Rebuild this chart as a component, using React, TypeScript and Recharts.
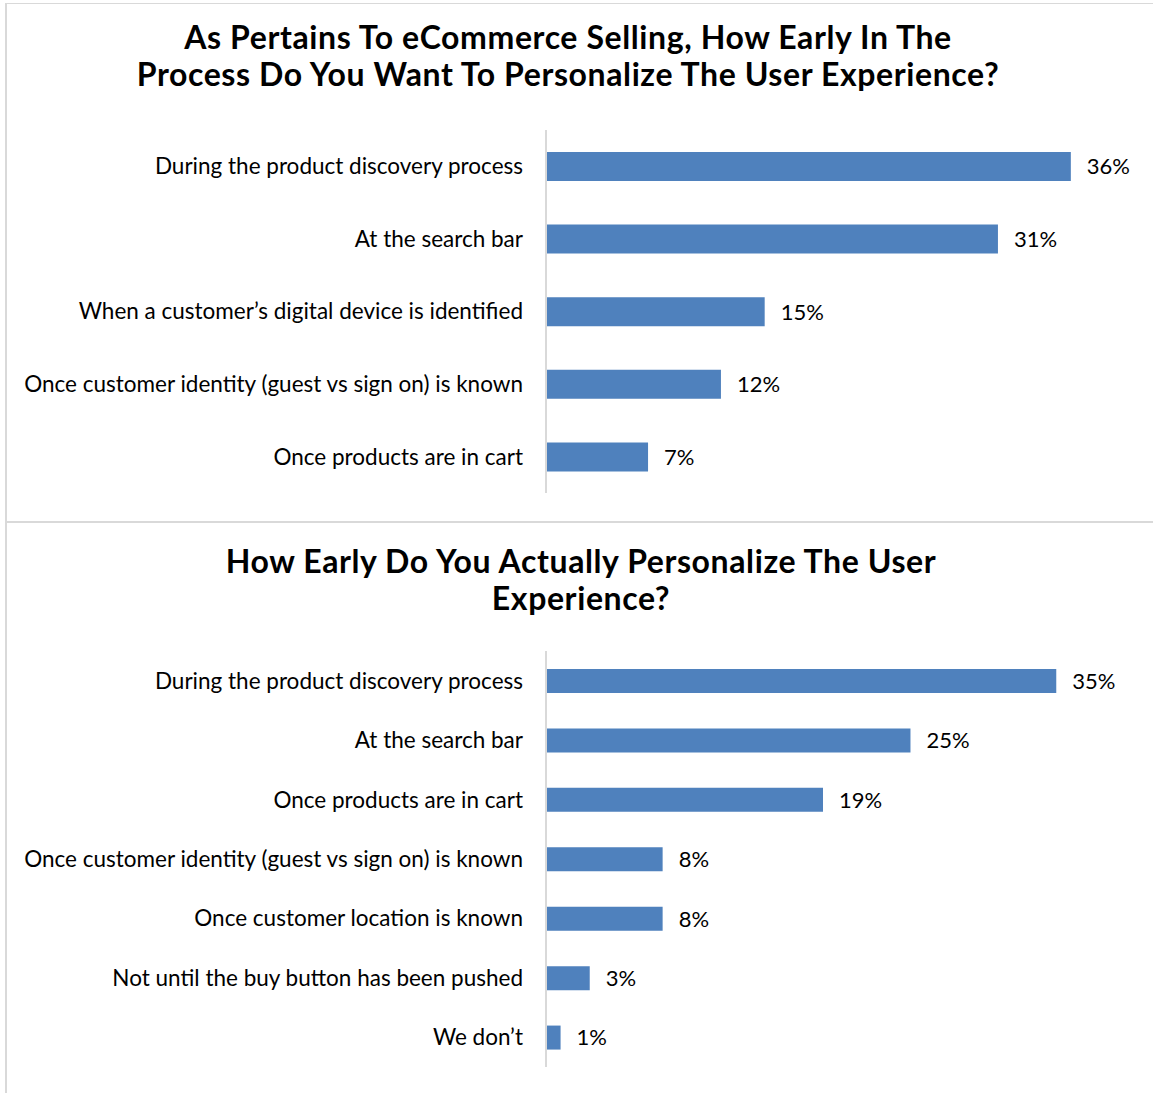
import { BarChart, Bar, XAxis, YAxis, LabelList } from "recharts";

const wantCategories = [
  "During the product discovery process",
  "At the search bar",
  "When a customer’s digital device is identified",
  "Once customer identity (guest vs sign on) is known",
  "Once products are in cart",
];
const wantValues = [36, 31, 15, 12, 7];

const actualCategories = [
  "During the product discovery process",
  "At the search bar",
  "Once products are in cart",
  "Once customer identity (guest vs sign on) is known",
  "Once customer location is known",
  "Not until the buy button has been pushed",
  "We don’t",
];
const actualValues = [35, 25, 19, 8, 8, 3, 1];

const FONT = "Lato, 'Open Sans', sans-serif";
const BLUE = "#4f81bd";
const GRID = "#d9d9d9";

function HBar({ cats, vals, height, barSize }: { cats: string[]; vals: number[]; height: number; barSize: number }) {
  const data = cats.map((name, i) => ({ name, value: vals[i] }));
  return (
    <BarChart
      width={1153}
      height={height}
      data={data}
      layout="vertical"
      margin={{ top: 0, right: 53, bottom: 0, left: 0 }}
    >
      <XAxis type="number" domain={[0, 38]} hide />
      <YAxis
        type="category"
        dataKey="name"
        width={546}
        tickLine={false}
        tickSize={0}
        tickMargin={23}
        axisLine={{ stroke: GRID, strokeWidth: 2 }}
        tick={{ fill: "#000", fontSize: 22.5, fontFamily: FONT }}
        interval={0}
      />
      <Bar dataKey="value" fill={BLUE} barSize={barSize} isAnimationActive={false}>
        <LabelList
          dataKey="value"
          position="right"
          offset={16}
          formatter={(v: any) => `${v}%`}
          style={{ fill: "#000", fontSize: 22, fontFamily: FONT }}
        />
      </Bar>
    </BarChart>
  );
}

export default function App() {
  const title: React.CSSProperties = {
    position: "absolute",
    fontFamily: FONT,
    fontWeight: 700,
    fontSize: 32,
    letterSpacing: 0.6,
    lineHeight: "37px",
    textAlign: "center",
    color: "#000",
    whiteSpace: "nowrap",
  };
  return (
    <div style={{ position: "absolute", left: 0, top: 0, width: 1153, height: 1093, background: "#fff", overflow: "hidden" }}>
      <div style={{ position: "absolute", left: 6, top: 3, width: 1147, height: 1, background: GRID }} />
      <div style={{ position: "absolute", left: 5, top: 3, width: 2, height: 1090, background: GRID }} />
      <div style={{ position: "absolute", left: 5, top: 521, width: 1148, height: 2, background: GRID }} />

      <div style={{ ...title, left: 568 - 500, width: 1000, top: 18 }}>
        As Pertains To eCommerce Selling, How Early In The
        <br />
        Process Do You Want To Personalize The User Experience?
      </div>
      <div style={{ position: "absolute", left: 0, top: 130 }}>
        <HBar cats={wantCategories} vals={wantValues} height={363} barSize={29} />
      </div>

      <div style={{ ...title, left: 581 - 500, width: 1000, top: 542 }}>
        How Early Do You Actually Personalize The User
        <br />
        Experience?
      </div>
      <div style={{ position: "absolute", left: 0, top: 651 }}>
        <HBar cats={actualCategories} vals={actualValues} height={416} barSize={24} />
      </div>
    </div>
  );
}
